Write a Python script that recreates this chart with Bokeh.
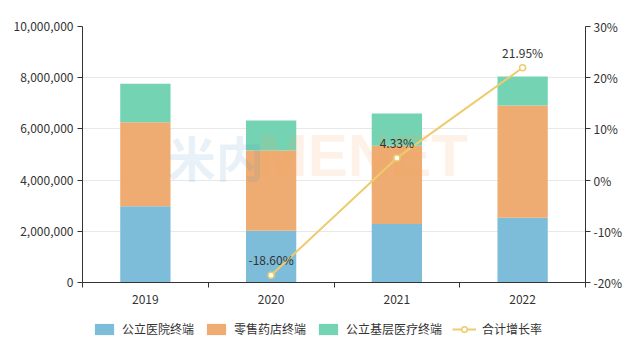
from bokeh.plotting import figure
from bokeh.layouts import column
from bokeh.models import (ColumnDataSource, Range1d, LinearAxis, FixedTicker,
                          NumeralTickFormatter, PrintfTickFormatter, Legend, LegendItem)
from bokeh.core.properties import value
from bokeh.embed import file_html
from bokeh.resources import INLINE

years = ["2019", "2020", "2021", "2022"]
hospital = [2980000, 2020000, 2290000, 2530000]
retail = [3280000, 3140000, 3050000, 4380000]
primary = [1500000, 1170000, 1260000, 1140000]
growth_years = ["2020", "2021", "2022"]
growth = [-18.60, 4.33, 21.95]
left_ticks = [0, 2000000, 4000000, 6000000, 8000000, 10000000]
right_ticks = [-20, -10, 0, 10, 20, 30]
series_names = ["公立医院终端", "零售药店终端", "公立基层医疗终端"]
growth_name = "合计增长率"

FONT = "Noto Sans CJK SC"
C_BLUE = "#7EBDDA"
C_ORANGE = "#EEAC72"
C_GREEN = "#74D3B3"
C_LINE = "#EDCB6E"
colors = [C_BLUE, C_ORANGE, C_GREEN]

xpos = [i + 0.5 for i in range(len(years))]
gx = [years.index(y) + 0.5 for y in growth_years]

src = ColumnDataSource(dict(x=xpos, hospital=hospital, retail=retail, primary=primary))

p = figure(width=630, height=310, output_backend="svg", toolbar_location=None,
           x_range=Range1d(0, len(years)), y_range=Range1d(0, 10000000),
           min_border_left=82, min_border_right=45, min_border_top=26, min_border_bottom=28)
p.outline_line_color = None
p.background_fill_color = "white"
p.border_fill_color = "white"
p.extra_y_ranges = {"pct": Range1d(-20, 30)}

stack = p.vbar_stack(["hospital", "retail", "primary"], x="x", width=0.4, source=src,
                     color=colors, line_color=None)

# watermark (drawn over the bars, very faint)
p.text([0.677], [4960000], text=["米内"], text_font=value(FONT), text_font_size="48px",
       text_font_style="bold", text_color="#4A90C0", text_alpha=0.14,
       text_baseline="middle", text_align="left")
p.text([1.394], [4960000], text=["MENET"], text_font=value("Liberation Sans"),
       text_font_size="60px", text_font_style="bold", text_color="#F5A05A",
       text_alpha=0.14, text_baseline="middle", text_align="left")

line = p.line(gx, growth, y_range_name="pct", line_color=C_LINE, line_width=2)
pts = p.scatter(gx, growth, y_range_name="pct", size=6, fill_color="white",
                line_color=C_LINE, line_width=1.5)
p.text(gx, growth, text=[f"{v:.2f}%" for v in growth], y_range_name="pct",
       y_offset=-7, text_align="center", text_baseline="bottom",
       text_font=value(FONT), text_font_size="12px", text_color="#333333")

# grid
p.xgrid.visible = False
p.ygrid.ticker = FixedTicker(ticks=left_ticks)
p.ygrid.grid_line_color = "#E8E8E8"

# x axis
xa = p.xaxis[0]
xa.ticker = FixedTicker(ticks=xpos, minor_ticks=list(range(len(years) + 1)))
xa.major_label_overrides = {x: y for x, y in zip(xpos, years)}
xa.major_tick_line_color = None
xa.minor_tick_out = 5
xa.minor_tick_in = 0
xa.minor_tick_line_color = "#333333"
xa.axis_line_color = "#333333"
xa.major_label_text_font = FONT
xa.major_label_text_font_size = "12px"
xa.major_label_text_color = "#333333"
xa.major_label_standoff = 6

# left axis
ya = p.yaxis[0]
ya.ticker = FixedTicker(ticks=left_ticks)
ya.formatter = NumeralTickFormatter(format="0,0")
ya.minor_tick_line_color = None
ya.major_tick_in = 0
ya.major_tick_out = 5
ya.axis_line_color = "#333333"
ya.major_tick_line_color = "#333333"
ya.major_label_text_font = FONT
ya.major_label_text_font_size = "12px"
ya.major_label_text_color = "#333333"
ya.major_label_standoff = 4

# right axis
ra = LinearAxis(y_range_name="pct", ticker=FixedTicker(ticks=right_ticks),
                formatter=PrintfTickFormatter(format="%d%%"))
ra.minor_tick_line_color = None
ra.major_tick_in = 0
ra.major_tick_out = 5
ra.axis_line_color = "#333333"
ra.major_tick_line_color = "#333333"
ra.major_label_text_font = FONT
ra.major_label_text_font_size = "12px"
ra.major_label_text_color = "#333333"
ra.major_label_standoff = 3
p.add_layout(ra, "right")

# legend strip as its own small figure (dummy glyphs lie outside its ranges)
lg = figure(width=630, height=42, output_backend="svg", toolbar_location=None,
            x_range=Range1d(0, 1), y_range=Range1d(0, 1),
            x_axis_type=None, y_axis_type=None,
            min_border_left=0, min_border_right=0, min_border_top=0, min_border_bottom=0)
lg.outline_line_color = None
lg.xgrid.visible = False
lg.ygrid.visible = False
items = []
for name, col in zip(series_names, colors):
    r = lg.rect([-10], [-10], width=1, height=1, fill_color=col, line_color=None)
    items.append(LegendItem(label=name, renderers=[r]))
lr = lg.line([-10, -9], [-10, -10], line_color=C_LINE, line_width=2)
ls = lg.scatter([-10], [-10], size=11, fill_color="white", line_color=C_LINE, line_width=1.5)
items.append(LegendItem(label=growth_name, renderers=[lr, ls]))

legend = Legend(items=items, orientation="horizontal", location=(10, 15))
legend.glyph_width = 24
legend.glyph_height = 14
legend.label_standoff = 6
legend.spacing = 10
legend.padding = 0
legend.margin = 0
legend.border_line_color = None
legend.background_fill_alpha = 0
legend.label_text_font = FONT
legend.label_text_font_size = "12px"
legend.label_text_color = "#333333"
legend.label_height = 14
lg.add_layout(legend, "center")

layout = column(p, lg, spacing=0)
open("out.html", "w").write(file_html(layout, INLINE))
